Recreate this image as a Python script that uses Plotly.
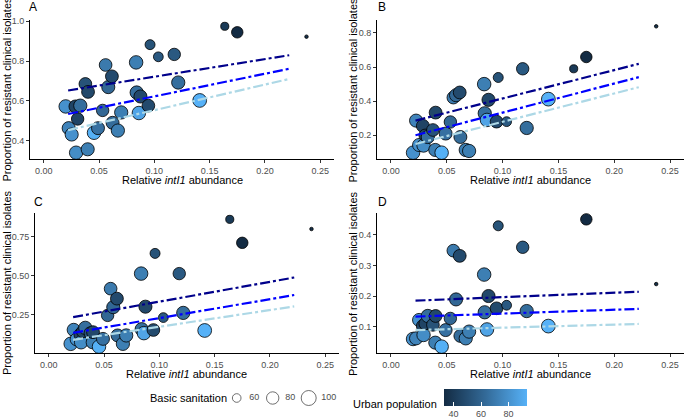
import numpy as np
import plotly.graph_objects as go

W, H = 685, 418
FONT = "Liberation Sans, Arial, sans-serif"
GREY = "#4D4D4D"

# ---- data (one entry per country, same order in every array) ----
intI1 = [0.0198, 0.0225, 0.0252, 0.0286, 0.0292, 0.0306, 0.0330, 0.0376, 0.0397, 0.0400,
         0.0454, 0.0490, 0.0532, 0.0559, 0.0583, 0.0616, 0.0622, 0.0670, 0.0700, 0.0835,
         0.0840, 0.0860, 0.0874, 0.0946, 0.0961, 0.1036, 0.1180, 0.1216, 0.1410, 0.1637,
         0.1750, 0.2376]
sanitation = [88, 85, 85, 84, 87, 80, 86, 82, 85, 83,
              88, 84, 80, 82, 85, 83, 84, 86, 86, 88,
              86, 88, 85, 82, 66, 65, 80, 86, 90, 58,
              74, 50]
urban = [80, 74, 80, 45, 78, 45, 65, 52, 72, 47,
         93, 66, 62, 70, 62, 48, 64, 72, 72, 72,
         65, 88, 47, 48, 52, 55, 55, 65, 93.5, 40,
         33, 36]
prop_A = [0.572, 0.463, 0.431, 0.572, 0.340, 0.509, 0.576, 0.685, 0.357, 0.645,
          0.440, 0.463, 0.552, 0.780, 0.669, 0.723, 0.490, 0.451, 0.542, 0.793,
          0.642, 0.539, 0.622, 0.576, 0.882, 0.821, 0.833, 0.692, 0.602, 0.974,
          0.944, 0.922]
prop_B = [0.098, 0.286, 0.143, 0.255, 0.140, 0.200, 0.190, 0.231, 0.114, 0.333,
          0.098, 0.210, 0.278, 0.421, 0.435, 0.451, 0.190, 0.114, 0.108, 0.500,
          0.329, 0.290, 0.408, 0.280, 0.539, 0.280, 0.590, 0.243, 0.412, 0.590,
          0.659, 0.839]
prop_C = [0.061, 0.151, 0.090, 0.121, 0.071, 0.140, 0.164, 0.130, 0.071, 0.136,
          0.043, 0.093, 0.244, 0.416, 0.297, 0.352, 0.115, 0.061, 0.115, 0.513,
          0.155, 0.130, 0.300, 0.150, 0.643, 0.230, 0.513, 0.260, 0.147, 0.862,
          0.711, 0.800]
prop_D = [0.060, 0.062, 0.122, 0.102, 0.073, 0.110, 0.135, 0.106, 0.048, 0.135,
          0.035, 0.089, 0.127, 0.348, 0.189, 0.331, 0.070, 0.062, 0.084, 0.270,
          0.147, 0.091, 0.200, 0.160, 0.429, 0.170, 0.359, 0.151, 0.102, None,
          0.450, 0.239]

# fitted lines (start/end), three urban population levels
fit_x = [0.022, 0.222]
fit_A = {"low": [0.652, 0.829], "mid": [0.534, 0.761], "high": [0.453, 0.710]}
fit_B = {"low": [0.286, 0.619], "mid": [0.200, 0.541], "high": [0.149, 0.482]}
fit_C = {"low": [0.233, 0.488], "mid": [0.132, 0.375], "high": [0.087, 0.302]}
fit_D = {"low": [0.185, 0.214], "mid": [0.133, 0.158], "high": [0.089, 0.109]}

size_breaks = [60, 80, 100]
urban_ticks = [40, 60, 80]

fit_colors = {"low": "#00008B", "mid": "#0000FF", "high": "#ADD8E6"}
colorscale = [[0, "#132B43"], [0.5, "#336A98"], [1, "#56B1F7"]]


def diam(v):
    v = np.asarray(v, dtype=float)
    return 3.5 + 11.5 * np.sqrt(np.clip((v - 50) / 50, 0, 1))


def px_x(p):
    return p / W


def px_y(p):
    return 1 - p / H


panels = [
    # key, y data, fits, x domain px, y domain px, y ticks, tick fmt, letter pos
    ("A", prop_A, fit_A, (30, 334), (20, 159), [0.4, 0.6, 0.8, 1.0], ".1f", (33, 7)),
    ("B", prop_B, fit_B, (377, 684), (20, 159), [0.2, 0.4, 0.6, 0.8], ".1f", (382, 7)),
    ("C", prop_C, fit_C, (35, 339), (213, 353), [0.25, 0.50, 0.75], ".2f", (38, 202)),
    ("D", prop_D, fit_D, (377, 684), (213, 353), [0.1, 0.2, 0.3, 0.4], ".1f", (382, 202)),
]
ytitle_x = {"A": 7, "B": 353, "C": 7, "D": 353}

fig = go.Figure()
annotations = []

for i, (key, ys, fits, xdom, ydom, yticks, fmt, lpos) in enumerate(panels):
    n = "" if i == 0 else str(i + 1)
    xa, ya = "x" + n, "y" + n
    fig.add_trace(go.Scatter(
        x=intI1, y=ys, mode="markers", xaxis=xa, yaxis=ya, showlegend=False,
        marker=dict(size=diam(sanitation), color=urban, coloraxis="coloraxis",
                    opacity=1, line=dict(color="black", width=0.8)),
    ))
    for lvl in ["low", "mid", "high"]:
        fig.add_trace(go.Scatter(
            x=fit_x, y=fits[lvl], mode="lines", xaxis=xa, yaxis=ya, showlegend=False,
            line=dict(color=fit_colors[lvl], width=2.2, dash="10px,3px,3px,3px"),
        ))
    vals = [v for v in ys if v is not None]
    lo, hi = min(vals), max(vals)
    pad = 0.05 * (hi - lo)
    axis_common = dict(showline=True, linecolor="black", linewidth=1, ticks="outside",
                       ticklen=3, tickwidth=0.8, tickcolor="#333333", showgrid=False,
                       zeroline=False, automargin=False,
                       tickfont=dict(size=9, color=GREY, family=FONT))
    fig.update_layout({
        "xaxis" + n: dict(domain=[px_x(xdom[0]), px_x(xdom[1])], anchor=ya,
                          range=[-0.0125, 0.2625], tickvals=[0, 0.05, 0.10, 0.15, 0.20, 0.25],
                          tickformat=".2f", **axis_common),
        "yaxis" + n: dict(domain=[px_y(ydom[1]), px_y(ydom[0])], anchor=xa,
                          range=[lo - pad, hi + pad], tickvals=yticks, tickformat=fmt,
                          **axis_common),
    })
    cx = (xdom[0] + xdom[1]) / 2
    cy = (ydom[0] + ydom[1]) / 2
    annotations.append(dict(text=key, x=px_x(lpos[0]), y=px_y(lpos[1]), xref="paper",
                            yref="paper", showarrow=False, xanchor="center", yanchor="middle",
                            font=dict(size=12, color="black", family=FONT)))
    annotations.append(dict(text="Relative <i>intI1</i> abundance", x=px_x(cx),
                            y=px_y(ydom[1] + 21), xref="paper", yref="paper", showarrow=False,
                            xanchor="center", yanchor="middle",
                            font=dict(size=11, color="black", family=FONT)))
    annotations.append(dict(text="Proportion of resistant clinical isolates",
                            x=px_x(ytitle_x[key]), y=px_y(cy), xref="paper", yref="paper",
                            showarrow=False, textangle=-90, xanchor="center",
                            yanchor="middle",
                            font=dict(size=11, color="black", family=FONT)))

# size legend (Basic sanitation) on its own small axis
fig.add_trace(go.Scatter(
    x=size_breaks, y=[0.5] * 3, mode="markers", xaxis="x5", yaxis="y5", showlegend=False,
    marker=dict(size=diam(size_breaks), color="white", line=dict(color="black", width=0.8)),
))
fig.add_trace(go.Scatter(
    x=[v + 7 for v in size_breaks], y=[0.5] * 3, mode="text", xaxis="x5", yaxis="y5",
    text=[str(v) for v in size_breaks], textposition="middle right", showlegend=False,
    textfont=dict(size=9, color=GREY, family=FONT),
))
fig.update_layout(
    xaxis5=dict(domain=[px_x(227.7), px_x(344.7)], range=[55, 120], visible=False,
                anchor="y5", automargin=False),
    yaxis5=dict(domain=[px_y(408), px_y(388)], range=[0, 1], visible=False, anchor="x5",
                automargin=False),
)
annotations.append(dict(text="Basic sanitation", x=px_x(148), y=px_y(397.5), xref="paper",
                        yref="paper", showarrow=False, xanchor="left", yanchor="middle",
                        font=dict(size=11, color="black", family=FONT)))
annotations.append(dict(text="Urban population", x=px_x(439), y=px_y(404), xref="paper",
                        yref="paper", showarrow=False, xanchor="right", yanchor="middle",
                        font=dict(size=11, color="black", family=FONT)))

fig.update_layout(
    width=W, height=H,
    margin=dict(l=0, r=0, t=0, b=0, autoexpand=False),
    paper_bgcolor="white", plot_bgcolor="white",
    font=dict(family=FONT),
    annotations=annotations,
    coloraxis=dict(
        colorscale=colorscale, cmin=min(urban), cmax=max(urban),
        colorbar=dict(orientation="h", thickness=17, thicknessmode="pixels",
                      len=83, lenmode="pixels", x=px_x(485.5), xanchor="center",
                      y=px_y(389), yanchor="top", outlinewidth=0, ticks="inside",
                      ticklen=4, tickcolor="white", tickvals=urban_ticks,
                      tickfont=dict(size=9, color=GREY, family=FONT),
                      xpad=0, ypad=0, title=dict(text="")),
    ),
)

# the page body has a default 8px margin; drop it so the figure sits at 0,0
fig.write_html("out.html", config={"displayModeBar": False},
               post_script="document.body.style.margin='0';")
